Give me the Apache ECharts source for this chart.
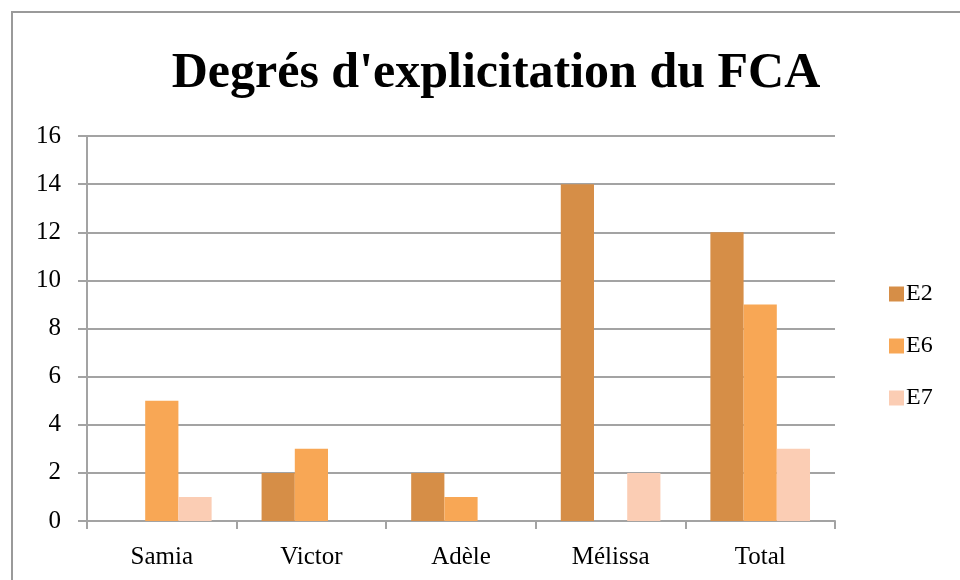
<!DOCTYPE html>
<html>
<head>
<meta charset="utf-8">
<script src="https://cdn.jsdelivr.net/npm/echarts@6/dist/echarts.min.js"></script>
<style>
  html, body { margin: 0; padding: 0; background: #fff; }
  #chart { width: 960px; height: 580px; }
</style>
</head>
<body>
<div id="chart"></div>
<script>
// Degrees of explicitation per student, by session
const categories = ['Samia', 'Victor', 'Adèle', 'Mélissa', 'Total'];
const seriesNames = ['E2', 'E6', 'E7'];
const valuesE2 = [0, 2, 2, 14, 12];
const valuesE6 = [5, 3, 1, 0, 9];
const valuesE7 = [1, 0, 0, 2, 3];
const yTicks = [0, 2, 4, 6, 8, 10, 12, 14, 16];

const colors = ['#d68e47', '#f8a755', '#fbcdb4'];
const font = '"Liberation Serif", "DejaVu Serif", serif';
const gridColor = '#a3a3a3';

const chart = echarts.init(document.getElementById('chart'), null, { renderer: 'canvas' });

const seriesValues = [valuesE2, valuesE6, valuesE7];

chart.setOption({
  animation: false,
  color: colors,
  graphic: [{
    type: 'rect',
    shape: { x: 12, y: 12, width: 960, height: 600 },
    style: { fill: 'none', stroke: '#9a9a9a', lineWidth: 2 },
    silent: true
  }],
  title: {
    text: "Degrés d'explicitation du FCA",
    left: 491,
    top: 44,
    textAlign: 'center',
    textStyle: {
      fontFamily: font,
      fontWeight: 'bold',
      fontSize: 50,
      color: '#000'
    }
  },
  legend: {
    orient: 'vertical',
    left: 884,
    top: 277,
    itemWidth: 15,
    itemHeight: 15,
    itemGap: 28,
    icon: 'rect',
    data: seriesNames,
    textStyle: { fontFamily: font, fontSize: 24, color: '#000', padding: [0, 0, 0, -3] }
  },
  grid: { left: 87, right: 125, top: 136, bottom: 59 },
  xAxis: {
    type: 'category',
    data: categories,
    axisLine: { lineStyle: { color: gridColor, width: 2 } },
    axisTick: { show: true, length: 8, lineStyle: { color: gridColor, width: 2 } },
    axisLabel: { fontFamily: font, fontSize: 25, color: '#000', margin: 24 }
  },
  yAxis: {
    type: 'value',
    min: yTicks[0],
    max: yTicks[yTicks.length - 1],
    interval: yTicks[1] - yTicks[0],
    axisLine: { show: true, lineStyle: { color: gridColor, width: 2 } },
    axisTick: { show: true, length: 9, lineStyle: { color: gridColor, width: 2 } },
    splitLine: { lineStyle: { color: gridColor, width: 2 } },
    axisLabel: { fontFamily: font, fontSize: 25, color: '#000', margin: 26 }
  },
  series: seriesNames.map((name, i) => ({
    name: name,
    type: 'bar',
    data: seriesValues[i],
    barGap: '0%',
    barCategoryGap: '33.4%',
    itemStyle: { color: colors[i] }
  }))
});
</script>
</body>
</html>
